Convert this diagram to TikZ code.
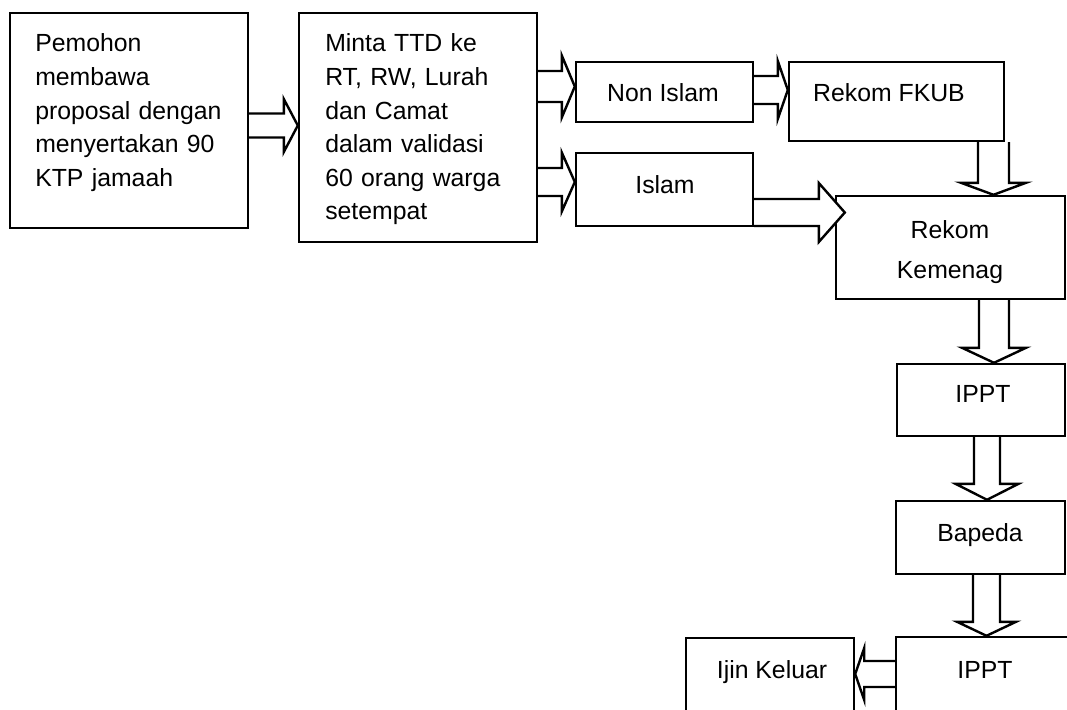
\documentclass[tikz,border=0pt]{standalone}
\usepackage{fontspec}
\setmainfont{Liberation Sans}
\usetikzlibrary{calc}
\tikzset{
  box/.style={draw, line width=1.8pt, rectangle, inner sep=0pt, line join=miter},
  blk/.style={draw, line width=1.8pt, line join=miter},
  lbl/.style={inner sep=0pt, font=\fontsize{18.6}{25.2}\selectfont},
}
% box: name, x1, y1, x2, y2 (pixels, y down)
\newcommand\bx[5]{\node[box, minimum width={(#4-#2)*0.75pt}, minimum height={(#5-#3)*0.75pt}] (#1) at ({(#2+#4)/2},{(#3+#5)/2}) {};}
% horizontal block arrow: [opts], tail, tip, y centre, shaft half, head half, head length (signed)
\newcommand\arrH[7][]{%
  \draw[blk,#1] let \p1=(#2), \p2=(#3) in
  (\x1,{-(#4-#5)*0.75pt}) -- ({\x2-(#7)*0.75pt},{-(#4-#5)*0.75pt})
  -- ({\x2-(#7)*0.75pt},{-(#4-#6)*0.75pt}) -- (\x2,{-(#4)*0.75pt})
  -- ({\x2-(#7)*0.75pt},{-(#4+#6)*0.75pt}) -- ({\x2-(#7)*0.75pt},{-(#4+#5)*0.75pt})
  -- (\x1,{-(#4+#5)*0.75pt});}
% vertical block arrow (down): [opts], tail, tip, x centre, shaft half, head half, head length
\newcommand\arrV[7][]{%
  \draw[blk,#1] let \p1=(#2), \p2=(#3) in
  ({(#4-#5)*0.75pt},\y1) -- ({(#4-#5)*0.75pt},{\y2+(#7)*0.75pt})
  -- ({(#4-#6)*0.75pt},{\y2+(#7)*0.75pt}) -- ({(#4)*0.75pt},\y2)
  -- ({(#4+#6)*0.75pt},{\y2+(#7)*0.75pt}) -- ({(#4+#5)*0.75pt},{\y2+(#7)*0.75pt})
  -- ({(#4+#5)*0.75pt},\y1);}
\begin{document}
\begin{tikzpicture}[x=0.75pt, y=-0.75pt]
\useasboundingbox (0,0) rectangle (1067,710);
\clip (0,0) rectangle (1067,710);
% boxes
\bx{b1}{10}{13}{248}{228}
\bx{b2}{299}{13}{537}{242}
\bx{b3}{576}{62}{753}{122}
\bx{b4}{576}{153}{753}{226}
\bx{b5}{789}{62}{1004}{141}
\bx{b6}{836}{196}{1065}{299}
\bx{b7}{897}{364}{1065}{436}
\bx{b8}{896}{501}{1065}{574}
\bx{b9}{896}{637}{1100}{760}
\bx{b10}{686}{638}{854}{760}
% texts
\node[lbl, anchor=base west, text width=230*0.75pt, align=left] (t1) at (35,52)
  {Pemohon\\membawa\\proposal dengan\\menyertakan 90\\KTP jamaah};
\node[lbl, anchor=base west, text width=230*0.75pt, align=left] (t2) at (325,52)
  {Minta TTD ke\\RT, RW, Lurah\\dan Camat\\dalam validasi\\60 orang warga\\setempat};
\node[lbl, anchor=base] (t3) at (663,101) {Non Islam};
\node[lbl, anchor=base] (t4) at (665,193) {Islam};
\node[lbl, anchor=base] (t5) at (889,101) {Rekom FKUB};
\node[lbl, anchor=base, text width=150*0.75pt, align=center, font=\fontsize{18.6}{30}\selectfont] (t6) at (950,238) {Rekom\\Kemenag};
\node[lbl, anchor=base] (t7) at (983,402) {IPPT};
\node[lbl, anchor=base] (t8) at (980,541) {Bapeda};
\node[lbl, anchor=base] (t9) at (985,678) {IPPT};
\node[lbl, anchor=base] (t10) at (772,678) {Ijin Keluar};
% arrows
\arrH{b1.east}{b2.west}{125.5}{12}{26.5}{14}
\arrH{b2.east}{b3.west}{86.5}{15.5}{31}{13}
\arrH{b2.east}{b4.west}{182}{14}{29.5}{13}
\arrH{b3.east}{b5.west}{90}{14}{29}{10}
\arrH[fill=white]{b4.east}{[xshift=7.5pt]b6.west}{212.5}{13.5}{29.5}{26}
\arrV{b5.south}{b6.north}{993.5}{15.5}{32.5}{12}
\arrV{b6.south}{b7.north}{994}{15}{32}{15}
\arrV{b7.south}{b8.north}{987}{13}{31.5}{16}
\arrV{b8.south}{b9.north}{986.5}{13.5}{29.5}{14}
\arrH{b9.west}{b10.east}{674}{13}{26}{-9}
\end{tikzpicture}
\end{document}
